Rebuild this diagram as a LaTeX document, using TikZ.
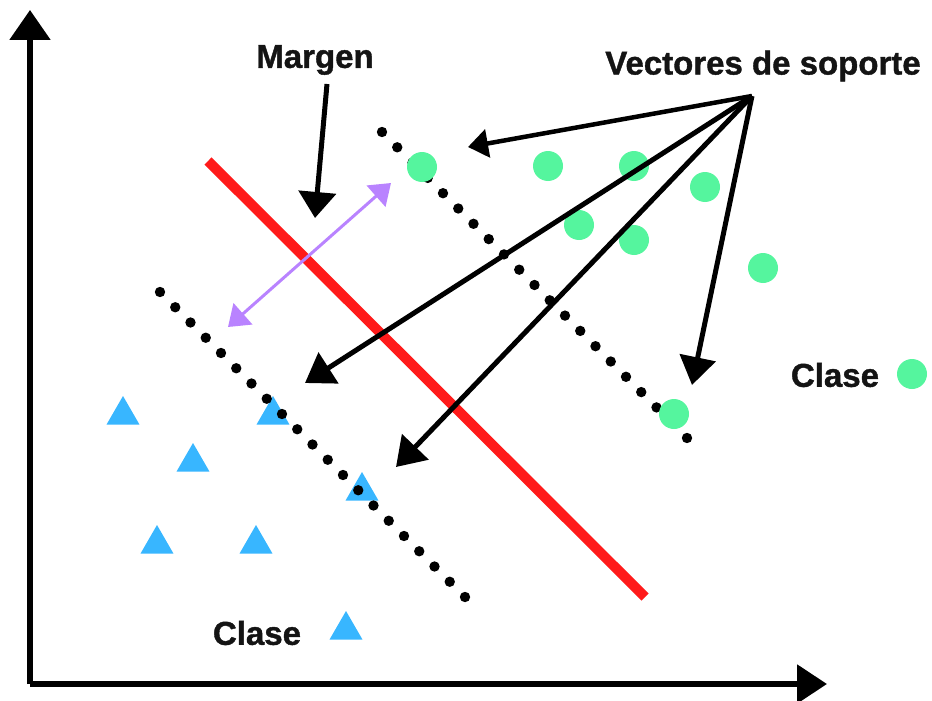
\documentclass[tikz,border=0pt]{standalone}
\usepackage{fontspec}
\setmainfont{Liberation Sans}
\newfontfamily\heavyfont{Liberation Sans}[FakeBold=1.2]
\usetikzlibrary{arrows.meta,shapes.geometric,calc}

\definecolor{hyperred}{HTML}{FF1A1A}
\definecolor{classgreen}{HTML}{55F59E}
\definecolor{classblue}{HTML}{38B6FF}
\definecolor{marginlilac}{HTML}{B983FF}
\definecolor{inkblack}{HTML}{141414}

\tikzset{
    label text/.style={font=\heavyfont\fontsize{33}{36}\selectfont\bfseries,text=inkblack,inner sep=0pt},
    green pt/.style={circle,fill=classgreen,minimum size=30pt,inner sep=0pt},
    blue pt/.style={regular polygon,regular polygon sides=3,fill=classblue,minimum size=38pt,inner sep=0pt},
    pointer/.style={line width=5pt,-{Triangle[length=28pt,width=36pt]}},
    dotline/.style={fill=black}
}

\begin{document}
\begin{tikzpicture}[x=1pt,y=-1pt]
    \useasboundingbox (0,0) rectangle (932,701);
    % axes
    \coordinate (origin) at (30,684);
    \coordinate (ytop) at (30,10);
    \coordinate (xend) at (827,684);
    \draw[line width=5.5pt,-{Triangle[length=30pt,width=40pt]}] (origin) -- (ytop);
    \draw[line width=5.5pt,-{Triangle[length=30pt,width=38pt]}] (origin) -- (xend);
    % class triangles
    \node[blue pt] (t1) at (123,415) {};
    \node[blue pt] (t2) at (273,415) {};
    \node[blue pt] (t3) at (193,462) {};
    \node[blue pt] (t4) at (362,491) {};
    \node[blue pt] (t5) at (157,544) {};
    \node[blue pt] (t6) at (256,544) {};
    % margin lines
    \coordinate (upA) at (382,132);
    \coordinate (upB) at (687,438);
    \coordinate (loA) at (160,292);
    \coordinate (loB) at (465,597);
    \foreach \i in {0,...,20} {
        \fill[dotline] ($(upA)!\i/20!(upB)$) circle (5.2pt);
        \fill[dotline] ($(loA)!\i/20!(loB)$) circle (5.2pt);
    }
    % class circles
    \node[green pt] (g1) at (422,167) {};
    \node[green pt] (g2) at (548,166) {};
    \node[green pt] (g3) at (634,166) {};
    \node[green pt] (g4) at (705,187) {};
    \node[green pt] (g5) at (579,225) {};
    \node[green pt] (g6) at (634,240) {};
    \node[green pt] (g7) at (763,268) {};
    \node[green pt] (g8) at (674,414) {};
    % hyperplane
    \coordinate (hpA) at (208,161);
    \coordinate (hpB) at (645,597);
    \draw[hyperred,line width=10pt] (hpA) -- (hpB);
    % labels
    \node[label text] (margen) at (315,60) {Margen};
    \node[label text] (vectores) at (763,66) {Vectores de soporte};
    \node[label text] (claseg) at (835,375) {Clase};
    \node[green pt] (gkey) at (912,374) {};
    \node[label text] (claset) at (257,633) {Clase};
    \node[blue pt] (tkey) at (346,630) {};
    % arrows
    \coordinate (mstart) at (327,84);
    \coordinate (mtip) at (315,218);
    \draw[pointer,-{Triangle[length=26pt,width=37pt]}] (mstart) -- (mtip);
    \coordinate (apex) at (752,96);
    \coordinate (tip1) at (468,147);
    \coordinate (tip2) at (305,383);
    \coordinate (tip3) at (396,467);
    \coordinate (tip4) at (692,385);
    \draw[pointer,line width=4.5pt,-{Triangle[length=20pt,width=28pt]}] (apex) -- (tip1);
    \draw[pointer] (apex) -- (tip2);
    \draw[pointer] (apex) -- (tip3);
    \draw[pointer] (apex) -- (tip4);
    \coordinate (marA) at (228,327);
    \coordinate (marB) at (391,183);
    \draw[marginlilac,line width=3pt,{Triangle[length=20pt,width=28pt]}-{Triangle[length=20pt,width=28pt]}] (marA) -- (marB);
\end{tikzpicture}
\end{document}
